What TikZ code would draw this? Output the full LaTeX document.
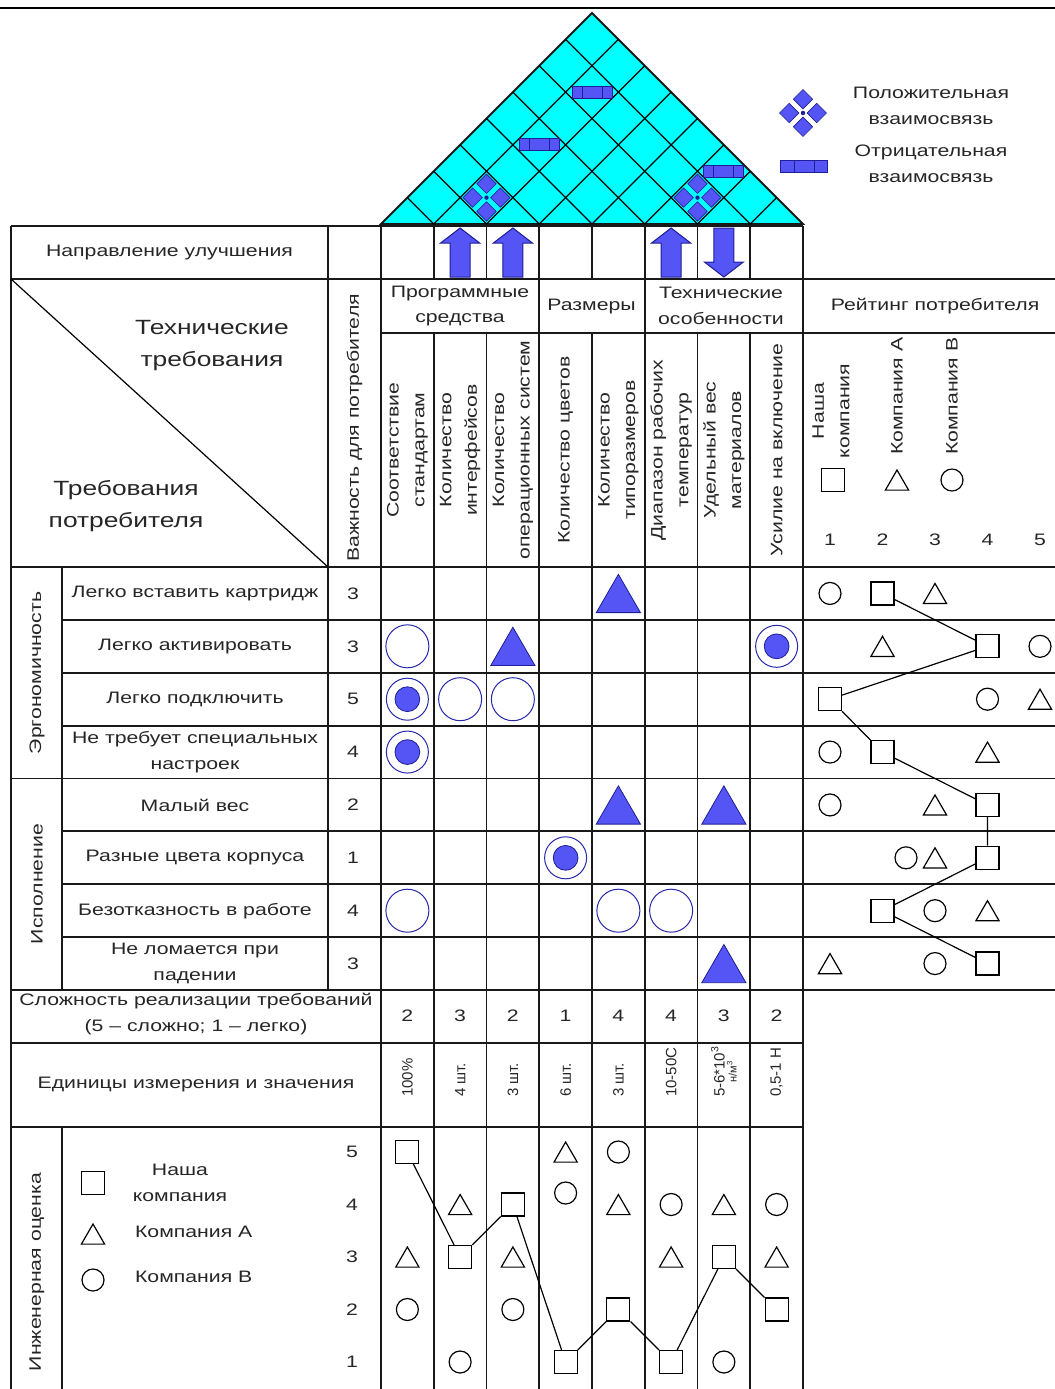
\documentclass[tikz,border=0pt]{standalone}
\usepackage{fontspec}
\setmainfont[FakeStretch=1.28]{Liberation Sans}
\newfontfamily\unitfam{Liberation Sans}
\usetikzlibrary{shapes.geometric}
\definecolor{qblue}{RGB}{85,85,245}
\definecolor{qedge}{RGB}{30,30,150}
\definecolor{qring}{RGB}{40,40,170}
\definecolor{roofcyan}{RGB}{0,255,255}
\newcommand{\qfont}{\fontsize{8.3}{12.8}\selectfont}
\newcommand{\bigqfont}{\fontsize{10.3}{16}\selectfont}
\newcommand{\unitfont}{\unitfam\fontsize{7.5}{8}\selectfont}
% four small diamonds = positive link
\newcommand{\posrel}[2]{%
  \node[posdia, yshift=6.9pt] (#1n) at (#2) {};
  \node[posdia, yshift=-6.9pt] (#1s) at (#2) {};
  \node[posdia, xshift=-6.9pt] (#1w) at (#2) {};
  \node[posdia, xshift=6.9pt] (#1e) at (#2) {};
  \node[posdot] (#1c) at (#2) {};}
\newcommand{\impup}[1]{\filldraw[dirarrow] (#1) ++(-10,0) -- ++(0,-34) -- ++(-9.5,0) -- ++(19.5,-15) -- ++(19.5,15) -- ++(-9.5,0) -- ++(0,34) -- cycle;}
\newcommand{\impdown}[1]{\filldraw[dirarrow] (#1) ++(-10,0) -- ++(0,34) -- ++(-9.5,0) -- ++(19.5,15) -- ++(19.5,-15) -- ++(-9.5,0) -- ++(0,-34) -- cycle;}

\begin{document}
\begin{tikzpicture}[x=0.5pt, y=-0.5pt, font=\qfont, text=black!85,
  tline/.style={line width=0.9pt, draw=black!90},
  weak/.style={circle, draw=qring, line width=0.5pt, minimum size=21.5pt, inner sep=0},
  strong/.style={circle, draw=qring, line width=0.5pt, minimum size=21pt, inner sep=0,
    path picture={\fill[qblue, draw=qedge, line width=0.4pt] (path picture bounding box.center) circle (6.2pt);}},
  medium/.style={regular polygon, regular polygon sides=3, fill=qblue, draw=qedge, line width=0.4pt,
    minimum size=25.5pt, inner sep=0, yshift=-3.2pt},
  oursq/.style={rectangle, draw, line width=0.6pt, fill=white, minimum size=11.5pt, inner sep=0},
  atri/.style={regular polygon, regular polygon sides=3, draw, line width=0.6pt, minimum size=13.4pt, inner sep=0, yshift=-1.7pt},
  bcirc/.style={circle, draw, line width=0.6pt, minimum size=11pt, inner sep=0},
  posdia/.style={diamond, fill=qblue, draw=qedge, line width=0.3pt, minimum width=9.8pt, minimum height=9.8pt, inner sep=0},
  posdot/.style={circle, fill=qedge, minimum size=2.2pt, inner sep=0},
  negrel/.style={rectangle, fill=qblue, draw=qedge, line width=0.5pt, minimum width=#1, minimum height=6pt, inner sep=0,
    path picture={\draw[qedge, line width=0.5pt] ([xshift=-5pt]path picture bounding box.north) -- ([xshift=-5pt]path picture bounding box.south)
      ([xshift=5pt]path picture bounding box.north) -- ([xshift=5pt]path picture bounding box.south);}},
  negrel/.default=20pt,
  dirarrow/.style={fill=qblue, draw=qedge, line width=0.5pt},
  vlab/.style={rotate=90, align=center}]
  \useasboundingbox (0,0) rectangle (1055,1389);

  % grid helpers
  \foreach \c in {1,...,8} \coordinate (c\c) at ({381+52.75*(\c-0.5)},0);
  \foreach \r in {1,...,8} \coordinate (r\r) at (0,{567+52.875*(\r-0.5)});
  \foreach \p in {1,...,5} \coordinate (p\p) at ({830+52.5*(\p-1)},0);
  \foreach \l in {1,...,5} \coordinate (e\l) at (0,{1152+52.5*(5-\l)});
  \coordinate (p25) at (906,0);
  \coordinate (e42) at (0,1193);
  \coordinate (hy) at (0,450);
  \coordinate (ny) at (0,540);
  \coordinate (qx) at (195,0);
  \coordinate (wx) at (353,0);
  \coordinate (lx) at (352,0);
  \coordinate (cy) at (0,1016);
  \coordinate (uy) at (0,1104);
  \coordinate (ab) at (0,277);
  \coordinate (at) at (0,228);

  \draw[line width=1.2pt] (0,8) -- (1055,8);

  % roof
  \filldraw[fill=roofcyan, tline] (381,224) -- (592,13) -- (803,224) -- cycle;
  \foreach \i in {1,...,7} {
    \pgfmathsetmacro{\bx}{381+52.75*\i}
    \draw[line width=0.6pt] (\bx,224) -- ({(803+\bx)/2},{224-(803-\bx)/2});
    \draw[line width=0.6pt] (\bx,224) -- ({(381+\bx)/2},{224-(\bx-381)/2});
  }
  \coordinate (k27) at (592,92.1);
  \coordinate (k25) at (539.25,144.9);
  \coordinate (k68) at (723.9,171.25);
  \coordinate (k23) at (486.5,197.6);
  \coordinate (k67) at (697.5,197.6);
  \node[negrel] (n27) at (k27) {};
  \node[negrel] (n25) at (k25) {};
  \node[negrel] (n68) at (k68) {};
  \posrel{p23}{k23}
  \posrel{p67}{k67}

  % legend
  \coordinate (lpos) at (803,113);
  \posrel{lp}{lpos}
  \node[negrel=23.5pt] (ln) at (804,166) {};
  \node[align=center] (lptext) at (931,106) {Положительная\\взаимосвязь};
  \node[align=center] (lntext) at (931,164) {Отрицательная\\взаимосвязь};

  % table lines
  \draw[tline] (11,226) -- (803,226);
  \draw[tline] (11,279) -- (1055,279);
  \draw[tline] (381,333) -- (1055,333);
  \draw[tline] (11,567) -- (1055,567);
  \foreach \r in {1,2,3,5,6,7} \draw[tline] (62,{567+52.875*\r}) -- (1055,{567+52.875*\r});
  \draw[tline] (11,778.5) -- (1055,778.5);
  \draw[tline] (11,990) -- (1055,990);
  \draw[tline] (11,1043) -- (803,1043);
  \draw[tline] (11,1127) -- (803,1127);
  \draw[tline] (11,226) -- (11,1389);
  \draw[tline] (62,567) -- (62,990) (62,1127) -- (62,1389);
  \draw[tline] (328,226) -- (328,990);
  \foreach \k in {0,3,5,8} \draw[tline] ({381+52.75*\k},226) -- ({381+52.75*\k},1389);
  \foreach \k in {1,2,4,6,7} \draw[tline] ({381+52.75*\k},226) -- ({381+52.75*\k},279) ({381+52.75*\k},333) -- ({381+52.75*\k},1389);
  \draw[line width=0.6pt] (11,279) -- (328,567);

  % direction of improvement
  \node (dirlab) at (169.5,252.5) {Направление улучшения};
  \impup{c2 |- ab}
  \impup{c3 |- ab}
  \impup{c6 |- ab}
  \impdown{c7 |- at}

  % headers
  \node[font=\bigqfont, align=center] (techreq) at (212,346) {Технические\\требования};
  \node[font=\bigqfont, align=center] (custreq) at (126,506) {Требования\\потребителя};
  \node[vlab] (imp) at (354.5,428) {Важность для потребителя};
  \node[align=center] (grpsoft) at (460,306) {Программные\\средства};
  \node (grpsize) at (591.5,306) {Размеры};
  \node[align=center] (grptech) at (721,306) {Технические\\особенности};
  \foreach \c/\txt in {1/{Соответствие\\стандартам}, 2/{Количество\\интерфейсов},
      3/{Количество\\операционных систем}, 4/{Количество цветов}, 5/{Количество\\типоразмеров},
      6/{Диапазон рабочих\\температур}, 7/{Удельный вес\\материалов}, 8/{Усилие на включение}}
    \node[vlab] (h\c) at (c\c |- hy) {\txt};

  % customer rating header
  \node (rathead) at (935,306) {Рейтинг потребителя};
  \node[vlab] (hours) at (831,411) {Наша\\компания};
  \node[vlab, anchor=west] (hcoa) at (897,462) {Компания А};
  \node[vlab, anchor=west] (hcob) at (952,462) {Компания В};
  \node[oursq] (hs) at (833,480) {};
  \node[atri] (ha) at (897,480) {};
  \node[bcirc] (hb) at (952,480) {};
  \foreach \p in {1,...,5} \node (n\p) at (p\p |- ny) {\p};

  % customer requirements
  \node[vlab] (ergo) at (37,673) {Эргономичность};
  \node[vlab] (perf) at (37,884) {Исполнение};
  \foreach \r/\txt/\w in {1/Легко вставить картридж/3, 2/Легко активировать/3, 3/Легко подключить/5,
      4/{Не требует специальных\\настроек}/4, 5/Малый вес/2, 6/Разные цвета корпуса/1,
      7/Безотказность в работе/4, 8/{Не ломается при\\падении}/3} {
    \node[align=center] (q\r) at (qx |- r\r) {\txt};
    \node (w\r) at (wx |- r\r) {\w};
  }

  % relationship matrix
  \foreach \c/\r in {8/2, 1/3, 1/4, 4/6} \node[strong] (m\r\c) at (c\c |- r\r) {};
  \foreach \c/\r in {1/2, 2/3, 3/3, 1/7, 5/7, 6/7} \node[weak] (m\r\c) at (c\c |- r\r) {};
  \foreach \c/\r in {5/1, 3/2, 5/5, 7/5, 7/8} \node[medium] (m\r\c) at (c\c |- r\r) {};

  % customer rating body
  \foreach \r/\p in {1/2, 2/4, 3/1, 4/2, 5/4, 6/4, 7/2, 8/4} \node[oursq] (rs\r) at (p\p |- r\r) {};
  \foreach \r/\p in {1/3, 2/2, 3/5, 4/4, 5/3, 6/3, 7/4, 8/1} \node[atri] (ra\r) at (p\p |- r\r) {};
  \foreach \r/\p in {1/1, 2/5, 3/4, 4/1, 5/1, 6/25, 7/3, 8/3} \node[bcirc] (rb\r) at (p\p |- r\r) {};
  \draw[line width=0.6pt] (rs1) -- (rs2) -- (rs3) -- (rs4) -- (rs5) -- (rs6) -- (rs7) -- (rs8);

  % difficulty and units
  \node[align=center] (cplx) at (196,1014) {Сложность реализации требований\\(5 – сложно; 1 – легко)};
  \foreach \c/\v in {1/2, 2/3, 3/2, 4/1, 5/4, 6/4, 7/3, 8/2} \node (d\c) at (c\c |- cy) {\v};
  \node (units) at (196,1084) {Единицы измерения и значения};
  \foreach \c/\v in {1/100\%, 2/4 шт., 3/3 шт., 4/6 шт., 5/3 шт., 6/10-50C, 8/{0,5-1 Н}}
    \node[vlab, anchor=west, font=\unitfont] (u\c) at (c\c |- uy) {\v};
  \node[vlab, anchor=west, font=\unitfont] (u7) at (c7 |- uy) {5-6*10\textsuperscript{3}\\[-2pt]{\fontsize{5.5}{5.5}\selectfont н/м\textsuperscript{3}}};

  % engineering assessment
  \node[vlab] (englab) at (37,1272) {Инженерная оценка};
  \node[oursq] (lgs) at (93,1183) {};
  \node[align=center] (lgstxt) at (180,1183) {Наша\\компания};
  \node[atri] (lga) at (93,1234) {};
  \node[anchor=west] (lgatxt) at (128,1232) {Компания А};
  \node[bcirc] (lgb) at (93,1280) {};
  \node[anchor=west] (lgbtxt) at (128,1277) {Компания В};
  \foreach \l in {1,...,5} \node (lv\l) at (lx |- e\l) {\l};
  \foreach \c/\l in {1/5, 2/3, 3/4, 4/1, 5/2, 6/1, 7/3, 8/2} \node[oursq] (es\c) at (c\c |- e\l) {};
  \foreach \c/\l in {1/3, 2/4, 3/3, 4/5, 5/4, 6/3, 7/4, 8/3} \node[atri] (ea\c) at (c\c |- e\l) {};
  \foreach \c/\l in {1/2, 2/1, 3/2, 4/42, 5/5, 6/4, 7/1, 8/4} \node[bcirc] (eb\c) at (c\c |- e\l) {};
  \draw[line width=0.6pt] (es1) -- (es2) -- (es3) -- (es4) -- (es5) -- (es6) -- (es7) -- (es8);
\end{tikzpicture}
\end{document}
